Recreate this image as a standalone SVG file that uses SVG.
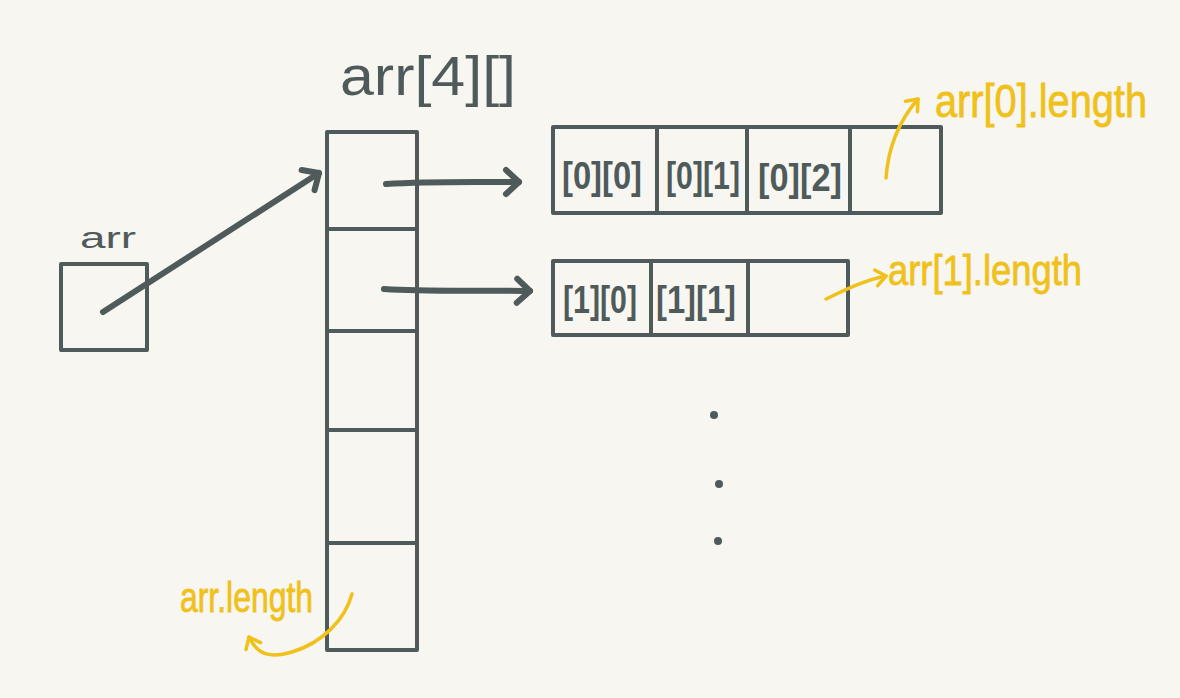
<svg xmlns="http://www.w3.org/2000/svg" width="1180" height="698" viewBox="0 0 1180 698">
<style>
.box{fill:none;stroke:#4f5b5b;stroke-width:4;stroke-linejoin:round}
.conn{fill:none;stroke:#4f5b5b;stroke-width:6;stroke-linecap:round}
.note{fill:none;stroke:#efc11a;stroke-width:3.5;stroke-linecap:round;stroke-linejoin:round}
.dk{fill:#4f5b5b;font-family:"Liberation Sans",Arial,sans-serif}
.cell{fill:#4f5b5b;font-family:"Liberation Sans",Arial,sans-serif;font-weight:bold;font-size:38px;text-anchor:middle}
.yl{fill:#efc11a;stroke:#efc11a;stroke-width:0.8;font-family:"Liberation Sans",Arial,sans-serif}
</style>
<defs>
<marker id="ah" markerUnits="userSpaceOnUse" markerWidth="40" markerHeight="40" viewBox="-20 -20 40 40" refX="0" refY="0" orient="auto">
<path d="M-13,-12 L0,0 L-13,12" fill="none" stroke="#4f5b5b" stroke-width="6" stroke-linecap="round" stroke-linejoin="round"/>
</marker>
<marker id="yh" markerUnits="userSpaceOnUse" markerWidth="30" markerHeight="30" viewBox="-15 -15 30 30" refX="0" refY="0" orient="auto">
<path d="M-10,-8 L0,0 L-10,8" fill="none" stroke="#efc11a" stroke-width="3.5" stroke-linecap="round" stroke-linejoin="round"/>
</marker>
</defs>
<rect width="1180" height="698" fill="#f8f6f1"/>

<g id="title">
<text class="dk" x="340" y="95" font-size="56" textLength="176" lengthAdjust="spacingAndGlyphs">arr[4][]</text>
</g>

<g id="arr">
<rect class="box" x="61" y="264" width="86" height="86"/>
<text class="dk" x="80" y="248" font-size="30" textLength="56" lengthAdjust="spacingAndGlyphs">arr</text>
</g>

<g id="column">
<rect class="box" x="327" y="132" width="90" height="518"/>
<line class="box" x1="327" y1="229" x2="417" y2="229"/>
<line class="box" x1="327" y1="331" x2="417" y2="331"/>
<line class="box" x1="327" y1="430" x2="417" y2="430"/>
<line class="box" x1="327" y1="543" x2="417" y2="543"/>
</g>

<g id="row0">
<rect class="box" x="553" y="127" width="388" height="86"/>
<line class="box" x1="657" y1="127" x2="657" y2="213"/>
<line class="box" x1="747" y1="127" x2="747" y2="213"/>
<line class="box" x1="850" y1="127" x2="850" y2="213"/>
<text class="cell" x="602" y="189" textLength="80" lengthAdjust="spacingAndGlyphs">[0][0]</text>
<text class="cell" x="703" y="189" textLength="74" lengthAdjust="spacingAndGlyphs">[0][1]</text>
<text class="cell" x="800" y="191" textLength="84" lengthAdjust="spacingAndGlyphs">[0][2]</text>
</g>

<g id="row1">
<rect class="box" x="553" y="261" width="295" height="74"/>
<line class="box" x1="651" y1="261" x2="651" y2="335"/>
<line class="box" x1="748" y1="261" x2="748" y2="335"/>
<text class="cell" x="600" y="313" textLength="74" lengthAdjust="spacingAndGlyphs">[1][0]</text>
<text class="cell" x="696" y="313" textLength="80" lengthAdjust="spacingAndGlyphs">[1][1]</text>
</g>

<g id="ellipsis" fill="#4f5b5b">
<circle cx="714" cy="415" r="4"/>
<circle cx="719" cy="484" r="4"/>
<circle cx="718" cy="541" r="4"/>
</g>

<g id="connectors">
<path class="conn" d="M103,312 L319,173" marker-end="url(#ah)"/>
<path class="conn" d="M386,184 C430,181 470,182 519,182" marker-end="url(#ah)"/>
<path class="conn" d="M384,289 C430,292 480,290 530,291" marker-end="url(#ah)"/>
</g>

<g id="annotations">
<path class="note" d="M886,178 C888,150 898,122 918,99" marker-end="url(#yh)"/>
<path class="note" d="M826,299 C845,290 865,280 886,276" marker-end="url(#yh)"/>
<path class="note" d="M352,594 C345,620 322,643 292,652 C272,658 258,656 249,637" marker-end="url(#yh)"/>
<text class="yl" x="935" y="117" font-size="46" textLength="212" lengthAdjust="spacingAndGlyphs">arr[0].length</text>
<text class="yl" x="888" y="285" font-size="42" textLength="194" lengthAdjust="spacingAndGlyphs">arr[1].length</text>
<text class="yl" x="180" y="612" font-size="42" textLength="133" lengthAdjust="spacingAndGlyphs">arr.length</text>
</g>
</svg>
